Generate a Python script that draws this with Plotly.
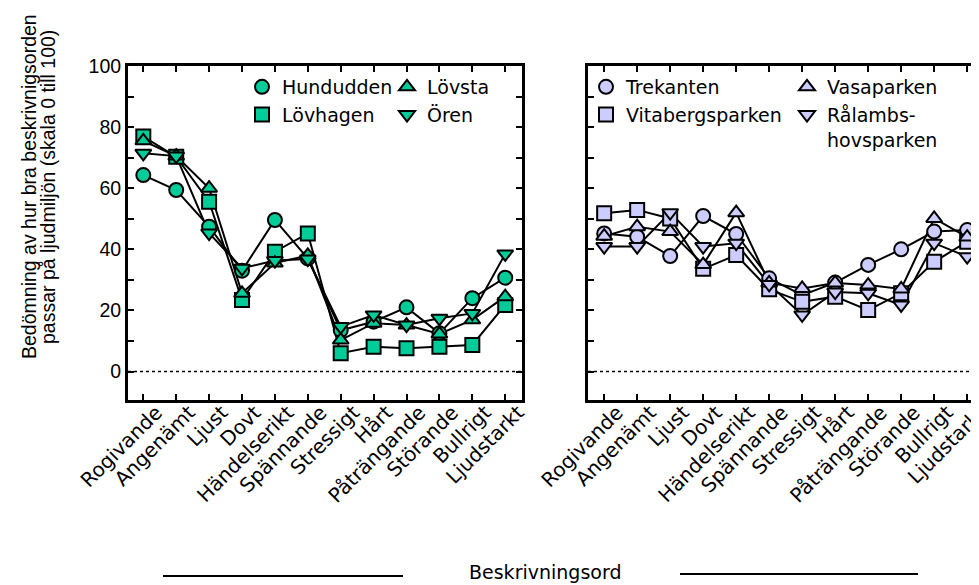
import plotly.graph_objects as go
from plotly.subplots import make_subplots

ord_lista = ['Rogivande', 'Angenämt', 'Ljust', 'Dovt', 'Händelserikt', 'Spännande',
             'Stressigt', 'Hårt', 'Påträngande', 'Störande', 'Bullrigt', 'Ljudstarkt']

# vänster panel
hundudden = [64.3, 59.4, 47.4, 33.0, 49.6, 37.0, 13.5, 16.3, 21.0, 12.5, 24.0, 30.7]
lovhagen = [76.9, 70.3, 55.6, 23.4, 39.2, 45.2, 6.0, 8.1, 7.6, 8.1, 8.7, 21.8]
lovsta = [75.5, 70.5, 60.0, 25.6, 35.5, 38.0, 10.3, 15.8, 15.2, 12.3, 16.9, 24.5]
oren = [71.4, 70.5, 45.3, 33.8, 36.3, 36.8, 14.7, 18.5, 15.2, 17.4, 19.0, 38.5]

# höger panel
trekanten = [45.2, 44.1, 37.8, 50.9, 45.0, 30.5, 25.0, 29.1, 34.9, 40.0, 45.8, 46.3]
vitabergs = [51.8, 52.9, 50.1, 33.6, 38.1, 26.9, 22.8, 24.5, 20.1, 25.6, 35.9, 42.5]
vasaparken = [44.3, 47.4, 45.8, 35.0, 52.0, 29.0, 27.2, 29.0, 28.3, 27.0, 50.1, 44.0]
ralambs = [40.9, 40.9, 52.0, 40.9, 42.0, 28.5, 18.5, 26.0, 25.6, 21.8, 42.0, 37.6]

y_ticks = [0, 10, 20, 30, 40, 50, 60, 70, 80, 90, 100]
y_text = ['0', '', '20', '', '40', '', '60', '', '80', '', '100']

gron = '#00CC99'
lila = '#CCCCFF'

# sidan har 8 px marginal runt diagrammet
OFF = 8
W, H = 979, 585
ML, MR, MT, MB = 128 - OFF, 3, 66 - OFF, H - (400 - OFF)
PW = W - ML - MR
PH = H - MT - MB


def px(x):
    return (x - OFF - ML) / PW


def py(y):
    return (H - MB - (y - OFF)) / PH


fig = make_subplots(rows=1, cols=2)

vanster = [('Hundudden', hundudden, 'circle', 'legend'),
           ('Lövhagen', lovhagen, 'square', 'legend'),
           ('Lövsta', lovsta, 'triangle-up', 'legend2'),
           ('Ören', oren, 'triangle-down', 'legend2')]
hoger = [('Trekanten', trekanten, 'circle', 'legend3'),
         ('Vitabergsparken', vitabergs, 'square', 'legend3'),
         ('Vasaparken', vasaparken, 'triangle-up', 'legend4'),
         ('Rålambs-<br>hovsparken', ralambs, 'triangle-down', 'legend4')]

for col, serier, farg in [(1, vanster, gron), (2, hoger, lila)]:
    for namn, v, sym, leg in serier:
        fig.add_trace(go.Scatter(x=ord_lista, y=v, mode='lines', showlegend=False,
                                 line=dict(color='black', width=2)), row=1, col=col)
    for namn, v, sym, leg in serier:
        fig.add_trace(go.Scatter(x=ord_lista, y=v, mode='markers', name=namn, legend=leg,
                                 marker=dict(symbol=sym, size=14, color=farg,
                                             line=dict(color='black', width=2))),
                      row=1, col=col)

axfont = dict(family='DejaVu Sans', size=20, color='black')
fig.update_xaxes(showline=True, linewidth=3, linecolor='black', mirror='ticks',
                 ticks='inside', ticklen=6, tickwidth=2, tickcolor='black',
                 tickangle=-45, tickfont=axfont, showgrid=False, zeroline=False,
                 ticklabelshift=13, ticklabelstandoff=-10, automargin=False)
fig.update_yaxes(showline=True, linewidth=3, linecolor='black', mirror='ticks',
                 ticks='inside', ticklen=6, tickwidth=2, tickcolor='black',
                 tickvals=y_ticks, ticktext=y_text, range=[-9.33, 100],
                 tickfont=dict(family='Liberation Sans', size=19.5, color='black'),
                 showgrid=False, zeroline=False, automargin=False)
fig.update_xaxes(domain=[0, px(522)], range=[-0.465, 11.51], row=1, col=1)
fig.update_xaxes(domain=[px(588), 1], range=[-0.49, 11.51], row=1, col=2)
fig.update_yaxes(showticklabels=False, row=1, col=2)

for xr in ['x', 'x2']:
    fig.add_shape(type='line', xref=xr + ' domain', yref='y', x0=0, x1=1, y0=0, y1=0,
                  line=dict(color='black', width=1.5, dash='dot'))

# titlar
tfont = dict(family='Liberation Sans', size=19.5, color='black')
fig.add_annotation(text='Bedömning av hur bra beskrivnigsorden', textangle=-90,
                   xref='paper', yref='paper', x=px(29), y=py(187), xanchor='center',
                   yanchor='middle', showarrow=False, font=tfont)
fig.add_annotation(text='passar på ljudmiljön (skala 0 till 100)', textangle=-90,
                   xref='paper', yref='paper', x=px(48), y=py(187), xanchor='center',
                   yanchor='middle', showarrow=False, font=tfont)
fig.add_annotation(text='Beskrivningsord', xref='paper', yref='paper', x=px(545), y=py(572),
                   xanchor='center', yanchor='middle', showarrow=False,
                   font=dict(family='DejaVu Sans', size=19, color='black'))
fig.add_shape(type='line', xref='paper', yref='paper', x0=px(163), x1=px(403),
              y0=py(576), y1=py(576), line=dict(color='black', width=2))
fig.add_shape(type='line', xref='paper', yref='paper', x0=px(680), x1=px(918),
              y0=py(574), y1=py(574), line=dict(color='black', width=2))

legfont = dict(family='DejaVu Sans', size=19, color='black')
legbas = dict(bgcolor='rgba(0,0,0,0)', font=legfont, orientation='v', valign='top',
              xanchor='left', yanchor='top', tracegroupgap=0)
fig.update_layout(
    legend=dict(legbas, x=px(242), y=py(68)),
    legend2=dict(legbas, x=px(387), y=py(68)),
    legend3=dict(legbas, x=px(586), y=py(68)),
    legend4=dict(legbas, x=px(787), y=py(68)),
)

fig.update_layout(width=W, height=H, margin=dict(l=ML, r=MR, t=MT, b=MB, autoexpand=False),
                  plot_bgcolor='white', paper_bgcolor='white')

fig.write_html('out.html')
